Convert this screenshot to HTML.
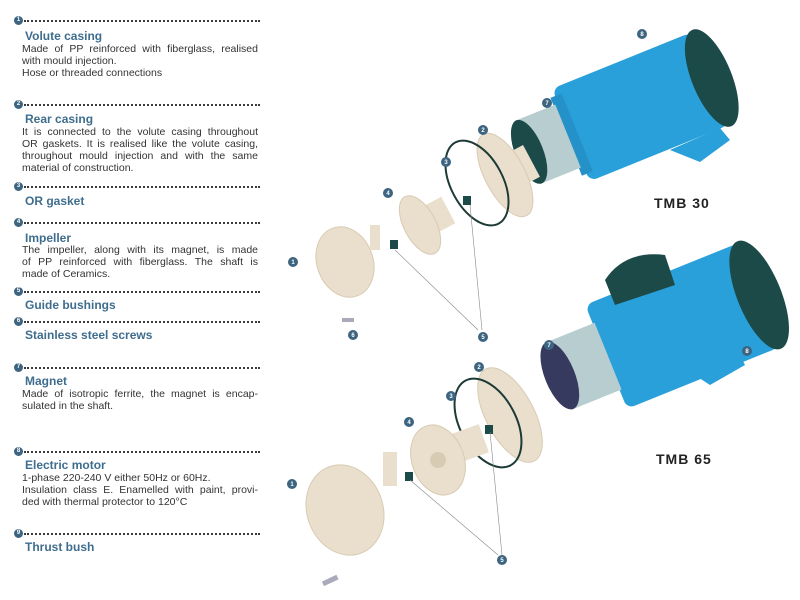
<!DOCTYPE html>
<html><head><meta charset="utf-8"><style>
body{margin:0;width:800px;height:600px;background:#fff;position:relative;overflow:hidden;font-family:"Liberation Sans",sans-serif}
.d{position:absolute;left:14px;width:246px;height:9px}
.d .b{position:absolute;left:0;top:0;width:9px;height:9px;border-radius:50%;background:#3d6480;color:#fff;font-size:6px;font-weight:bold;text-align:center;line-height:9px}
.d .l{position:absolute;left:10px;right:0;top:4px;border-top:2px dotted #3a3a3a}
.t{position:absolute;left:25px;font-size:12px;font-weight:bold;color:#3f6d8e;white-space:nowrap}
.p{position:absolute;left:22px;font-size:10.5px;line-height:12px;color:#333;width:236px;white-space:nowrap}
.p .j{text-align:justify;text-align-last:justify}
</style></head><body>
<div class="d" style="top:16px"><div class="b">1</div><div class="l"></div></div>
<div class="t" style="top:29px">Volute casing</div>
<div class="p" style="top:43px"><div class="j">Made of PP reinforced with fiberglass, realised</div><div>with mould injection.</div><div>Hose or threaded connections</div></div>
<div class="d" style="top:100px"><div class="b">2</div><div class="l"></div></div>
<div class="t" style="top:112px">Rear casing</div>
<div class="p" style="top:126px"><div class="j">It is connected to the volute casing throughout</div><div class="j">OR gaskets. It is realised like the volute casing,</div><div class="j">throughout mould injection and with the same</div><div>material of construction.</div></div>
<div class="d" style="top:182px"><div class="b">3</div><div class="l"></div></div>
<div class="t" style="top:194px">OR gasket</div>
<div class="d" style="top:218px"><div class="b">4</div><div class="l"></div></div>
<div class="t" style="top:231px">Impeller</div>
<div class="p" style="top:244px"><div class="j">The impeller, along with its magnet, is made</div><div class="j">of PP reinforced with fiberglass. The shaft is</div><div>made of Ceramics.</div></div>
<div class="d" style="top:287px"><div class="b">5</div><div class="l"></div></div>
<div class="t" style="top:298px">Guide bushings</div>
<div class="d" style="top:317px"><div class="b">6</div><div class="l"></div></div>
<div class="t" style="top:328px">Stainless steel screws</div>
<div class="d" style="top:363px"><div class="b">7</div><div class="l"></div></div>
<div class="t" style="top:374px">Magnet</div>
<div class="p" style="top:388px"><div class="j">Made of isotropic ferrite, the magnet is encap-</div><div>sulated in the shaft.</div></div>
<div class="d" style="top:447px"><div class="b">8</div><div class="l"></div></div>
<div class="t" style="top:458px">Electric motor</div>
<div class="p" style="top:472px"><div>1-phase 220-240 V either 50Hz or 60Hz.</div><div class="j">Insulation class E. Enamelled with paint, provi-</div><div>ded with thermal protector to 120°C</div></div>
<div class="d" style="top:529px"><div class="b">9</div><div class="l"></div></div>
<div class="t" style="top:540px">Thrust bush</div>

<svg width="800" height="600" style="position:absolute;left:0;top:0">
<g font-family="Liberation Sans" font-size="6" font-weight="bold" fill="#fff" text-anchor="middle">
<!-- TOP motor -->
<g transform="translate(645,105) rotate(-22)">
<rect x="-80" y="-50" width="150" height="100" rx="8" fill="#2aa0da"/>
<ellipse cx="72" cy="0" rx="20" ry="52" fill="#1c4a48"/>
<rect x="-85" y="-42" width="12" height="84" fill="#2492c8"/>
<rect x="-125" y="-34" width="42" height="68" fill="#b8cdcf"/>
<ellipse cx="-125" cy="0" rx="14" ry="34" fill="#1c4a48"/>
</g>
<polygon points="670,150 720,128 730,140 700,162" fill="#2aa0da"/>
<!-- top pump parts -->
<g transform="translate(505,175) rotate(-28)"><rect x="0" y="-18" width="30" height="36" fill="#eadfcc"/><ellipse rx="20" ry="46" fill="#eadfcc" stroke="#d8cbb3"/></g>
<ellipse cx="477" cy="183" rx="26" ry="46" transform="rotate(-28 477 183)" fill="none" stroke="#1c3a36" stroke-width="2"/>
<rect x="463" y="196" width="8" height="9" fill="#1c4a48"/>
<g transform="translate(420,225) rotate(-28)"><rect x="2" y="-15" width="30" height="30" fill="#eadfcc"/><ellipse rx="16" ry="32" fill="#eadfcc" stroke="#d8cbb3"/></g>
<g transform="translate(345,262) rotate(-20)"><ellipse rx="28" ry="36" fill="#eadfcc" stroke="#d8cbb3"/></g>
<rect x="370" y="225" width="10" height="25" fill="#eadfcc"/>
<rect x="390" y="240" width="8" height="9" fill="#1c4a48"/>
<line x1="395" y1="250" x2="478" y2="330" stroke="#888" stroke-width=".6"/>
<line x1="470" y1="205" x2="482" y2="330" stroke="#888" stroke-width=".6"/>
<rect x="342" y="318" width="12" height="4" fill="#aab"/>
<!-- BOTTOM motor -->
<g transform="translate(685,325) rotate(-22)">
<rect x="-85" y="-56" width="165" height="112" rx="8" fill="#2aa0da"/>
<ellipse cx="80" cy="0" rx="22" ry="58" fill="#1c4a48"/>
<rect x="-135" y="-36" width="52" height="72" fill="#b8cdcf"/>
<ellipse cx="-135" cy="0" rx="15" ry="36" fill="#363a5e"/>
</g>
<path d="M605 280 q20-30 60-25 l10 30 l-60 20z" fill="#1c4a48"/>
<polygon points="690,372 740,355 745,365 710,385" fill="#2aa0da"/>
<!-- bottom pump parts -->
<g transform="translate(510,415) rotate(-28)"><ellipse rx="24" ry="52" fill="#eadfcc" stroke="#d8cbb3"/></g>
<ellipse cx="488" cy="423" rx="28" ry="48" transform="rotate(-28 488 423)" fill="none" stroke="#1c3a36" stroke-width="2"/>
<rect x="485" y="425" width="8" height="9" fill="#1c4a48"/>
<rect x="445" y="430" width="40" height="30" fill="#eadfcc" transform="rotate(-20 465 445)"/>
<g transform="translate(438,460) rotate(-20)"><ellipse rx="26" ry="36" fill="#eadfcc" stroke="#d8cbb3"/><circle r="8" fill="#d8cbb3"/></g>
<g transform="translate(345,510) rotate(-20)"><ellipse rx="38" ry="46" fill="#eadfcc" stroke="#d8cbb3"/></g>
<rect x="383" y="452" width="14" height="34" fill="#eadfcc"/>
<rect x="405" y="472" width="8" height="9" fill="#1c4a48"/>
<line x1="410" y1="480" x2="498" y2="555" stroke="#888" stroke-width=".6"/>
<line x1="490" y1="432" x2="502" y2="555" stroke="#888" stroke-width=".6"/>
<rect x="322" y="578" width="16" height="5" fill="#aab" transform="rotate(-25 330 580)"/>
<!-- badges -->
<g fill="#3d6480">
<circle cx="642" cy="34" r="5"/><circle cx="547" cy="103" r="5"/><circle cx="483" cy="130" r="5"/><circle cx="446" cy="162" r="5"/><circle cx="388" cy="193" r="5"/><circle cx="293" cy="262" r="5"/><circle cx="483" cy="337" r="5"/><circle cx="353" cy="335" r="5"/>
<circle cx="549" cy="345" r="5"/><circle cx="747" cy="351" r="5"/><circle cx="479" cy="367" r="5"/><circle cx="451" cy="396" r="5"/><circle cx="409" cy="422" r="5"/><circle cx="292" cy="484" r="5"/><circle cx="502" cy="560" r="5"/>
</g>
<text x="642" y="36">8</text><text x="547" y="105">7</text><text x="483" y="132">2</text><text x="446" y="164">3</text><text x="388" y="195">4</text><text x="293" y="264">1</text><text x="483" y="339">5</text><text x="353" y="337">6</text>
<text x="549" y="347">7</text><text x="747" y="353">8</text><text x="479" y="369">2</text><text x="451" y="398">3</text><text x="409" y="424">4</text><text x="292" y="486">1</text><text x="502" y="562">5</text>
</g>
<text x="654" y="208" font-family="Liberation Sans" font-size="14" font-weight="bold" fill="#222" letter-spacing="1">TMB 30</text>
<text x="656" y="464" font-family="Liberation Sans" font-size="14" font-weight="bold" fill="#222" letter-spacing="1">TMB 65</text>
</svg>
</body></html>
